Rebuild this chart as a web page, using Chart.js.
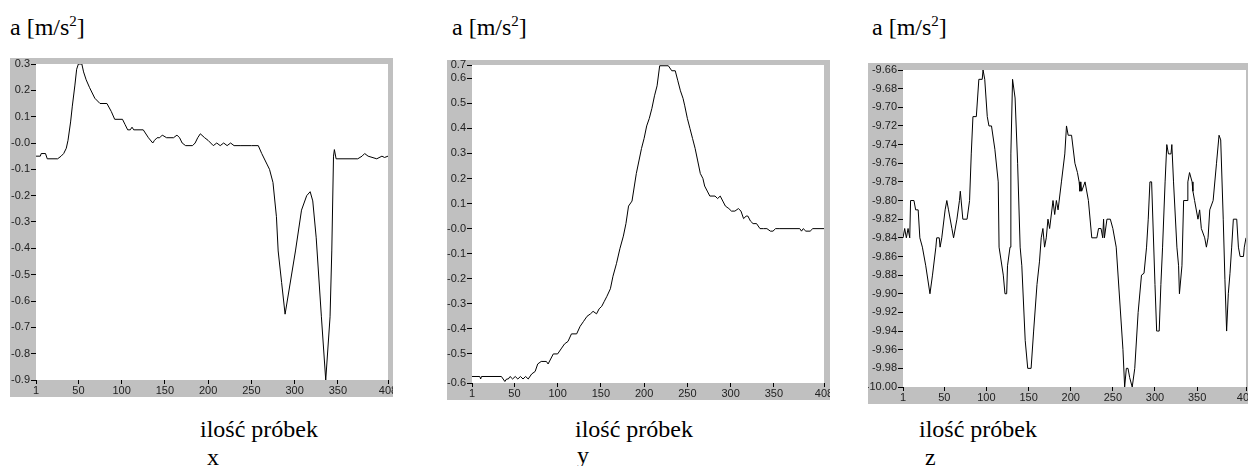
<!DOCTYPE html>
<html lang="pl">
  <head>
    <meta charset="UTF-8" />
    <title>Przyspieszenie a [m/s2] - osie x, y, z</title>
    <script src="https://cdn.jsdelivr.net/npm/chart.js"></script>
    <style>
      body {
        margin: 0;
        width: 1248px;
        height: 466px;
        position: relative;
        overflow: hidden;
        background: #fff;
      }
      .txt {
        position: absolute;
        font-family: "Liberation Serif", "DejaVu Serif", "Times New Roman", Times, serif;
        font-size: 24px;
        line-height: 24px;
        color: #000;
        white-space: nowrap;
      }
      .txt sup {
        font-size: 15px;
        line-height: 0;
        vertical-align: 9px;
      }
      canvas {
        position: absolute;
      }
    </style>
  </head>
  <body>
    <div class="txt" style="left: 10px; top: 15px">a [m/s<sup>2</sup>]</div>
    <div class="txt" style="left: 452px; top: 15px">a [m/s<sup>2</sup>]</div>
    <div class="txt" style="left: 872px; top: 15px">a [m/s<sup>2</sup>]</div>

    <canvas id="chartX" width="383" height="339" style="left: 10px; top: 58px"></canvas>
    <canvas id="chartY" width="383" height="340" style="left: 447px; top: 60px"></canvas>
    <canvas id="chartZ" width="380" height="341" style="left: 868px; top: 63px"></canvas>

    <div class="txt" style="left: 200px; top: 417px">ilość próbek</div>
    <div class="txt" style="left: 207px; top: 445px">x</div>
    <div class="txt" style="left: 575px; top: 417px">ilość próbek</div>
    <div class="txt" style="left: 577px; top: 443px">y</div>
    <div class="txt" style="left: 919px; top: 417px">ilość próbek</div>
    <div class="txt" style="left: 925px; top: 445px">z</div>

    <script>
      // sample numbers on the horizontal axis
      const sampleTicks = [1, 50, 100, 150, 200, 250, 300, 350, 408];

      // axis x
      const xSamples = [1, 6, 7, 12, 14, 26, 30, 33, 36, 38, 41, 43, 46, 48, 50, 54, 56, 59, 63, 69,
        75, 83, 88, 92, 101, 104, 107, 110, 112, 114, 125, 131, 136, 138, 141, 144, 147, 152, 160, 164,
        167, 170, 174, 182, 185, 188, 191, 196, 200, 203, 206, 210, 214, 218, 222, 226, 230, 237, 250, 258,
        262, 268, 271, 275, 279, 281, 285, 289, 301, 308, 314, 318, 321, 325, 331, 336, 341, 343, 345, 346,
        348, 373, 378, 381, 385, 395, 401, 404, 408];
      const xAccel = [-0.05, -0.05, -0.04, -0.04, -0.06, -0.06, -0.05, -0.04, -0.02, 0.01, 0.08, 0.14, 0.22, 0.28, 0.30, 0.30, 0.27, 0.24, 0.21, 0.17,
        0.15, 0.15, 0.12, 0.09, 0.09, 0.07, 0.05, 0.05, 0.06, 0.05, 0.05, 0.02, 0.00, 0.01, 0.02, 0.02, 0.03, 0.02, 0.02, 0.03,
        0.02, 0.00, -0.01, -0.01, 0.00, 0.02, 0.035, 0.02, 0.01, 0.00, -0.01, 0.00, -0.01, 0.00, -0.01, 0.00, -0.01, -0.01, -0.01, -0.01,
        -0.04, -0.08, -0.10, -0.15, -0.28, -0.41, -0.53, -0.65, -0.41, -0.255, -0.2, -0.185, -0.22, -0.36, -0.66, -0.9, -0.66, -0.41, -0.05, -0.025,
        -0.06, -0.06, -0.05, -0.04, -0.05, -0.06, -0.05, -0.055, -0.05];
      const xAxisTicks = [0.3, 0.2, 0.1, 0, -0.1, -0.2, -0.3, -0.4, -0.5, -0.6, -0.7, -0.8, -0.9];
      const xAxisLabels = ["0.3", "0.2", "0.1", "-0.0", "-0.1", "-0.2", "-0.3", "-0.4", "-0.5", "-0.6", "-0.7", "-0.8", "-0.9"];

      // axis y
      const ySamples = [1, 10, 11, 12, 35, 39, 41, 43, 45, 48, 51, 54, 57, 60, 63, 66, 70, 74, 77, 81,
        87, 89, 95, 100, 104, 108, 112, 116, 122, 126, 130, 134, 138, 141, 145, 148, 151, 154, 157, 161,
        164, 168, 172, 176, 179, 182, 186, 191, 194, 197, 200, 203, 206, 209, 212, 215, 218, 228, 232, 236,
        239, 242, 245, 247, 250, 253, 256, 259, 262, 265, 268, 270, 273, 276, 282, 285, 288, 291, 294, 298,
        301, 305, 309, 312, 315, 318, 320, 323, 326, 330, 334, 338, 342, 346, 349, 352, 357, 380, 382, 384,
        387, 392, 395, 408];
      const yAccel = [-0.59, -0.59, -0.60, -0.59, -0.59, -0.61, -0.60, -0.60, -0.59, -0.60, -0.59, -0.60, -0.59, -0.60, -0.59, -0.60, -0.58, -0.57, -0.54, -0.53,
        -0.53, -0.54, -0.50, -0.50, -0.48, -0.46, -0.45, -0.42, -0.42, -0.39, -0.37, -0.35, -0.34, -0.33, -0.34, -0.32, -0.31, -0.29, -0.27, -0.24,
        -0.19, -0.14, -0.08, -0.03, 0.02, 0.09, 0.11, 0.22, 0.27, 0.32, 0.36, 0.41, 0.44, 0.48, 0.53, 0.57, 0.65, 0.65, 0.63, 0.63,
        0.59, 0.55, 0.52, 0.49, 0.44, 0.40, 0.36, 0.32, 0.27, 0.22, 0.20, 0.17, 0.15, 0.13, 0.13, 0.12, 0.13, 0.11, 0.09, 0.08,
        0.07, 0.07, 0.08, 0.07, 0.04, 0.05, 0.05, 0.03, 0.02, 0.02, 0.00, 0.00, 0.00, -0.01, -0.01, 0.00, 0.00, 0.00, -0.01, 0.00,
        -0.01, -0.01, 0.00, 0.00];
      const yAxisTicks = [0.653, 0.6, 0.5, 0.4, 0.3, 0.2, 0.1, 0, -0.1, -0.2, -0.3, -0.4, -0.5, -0.616];
      const yAxisLabels = ["0.7", "0.6", "0.5", "0.4", "0.3", "0.2", "0.1", "-0.0", "-0.1", "-0.2", "-0.3", "-0.4", "-0.5", "-0.6"];

      // axis z
      const zSamples = [1, 3, 5, 7, 9, 10, 14, 16, 19, 21, 24, 28, 33, 36, 40, 41, 44, 45, 47, 51,
        53, 55, 59, 61, 65, 68, 69, 72, 77, 80, 82, 84, 88, 91, 95, 96, 98, 101, 103, 106,
        110, 114, 115, 120, 122, 124, 125, 128, 129, 131, 134, 137, 140, 142, 146, 149, 153, 156, 160, 163,
        165, 167, 169, 171, 173, 175, 179, 181, 183, 185, 189, 193, 195, 197, 201, 205, 208, 210, 211, 212,
        213, 217, 221, 225, 231, 233, 236, 238, 239, 240, 243, 247, 250, 254, 262, 264, 266, 268, 270, 273,
        276, 280, 284, 287, 290, 292, 294, 296, 300, 302, 303, 305, 307, 309, 312, 314, 316, 319, 320, 322,
        326, 328, 329, 332, 334, 338, 339, 341, 344, 345, 347, 351, 353, 355, 359, 361, 363, 365, 369, 373,
        376, 378, 381, 383, 385, 387, 389, 391, 393, 397, 399, 401, 405, 406, 408];
      const zAccel = [-9.84, -9.83, -9.84, -9.83, -9.84, -9.80, -9.80, -9.81, -9.81, -9.84, -9.85, -9.87, -9.90, -9.88, -9.85, -9.84, -9.84, -9.85, -9.84, -9.81,
        -9.80, -9.81, -9.83, -9.84, -9.82, -9.80, -9.79, -9.82, -9.82, -9.80, -9.75, -9.71, -9.71, -9.67, -9.67, -9.66, -9.67, -9.71, -9.72, -9.72,
        -9.745, -9.78, -9.85, -9.88, -9.90, -9.90, -9.87, -9.85, -9.75, -9.67, -9.69, -9.76, -9.85, -9.87, -9.95, -9.98, -9.98, -9.94, -9.89, -9.865,
        -9.84, -9.83, -9.85, -9.84, -9.82, -9.83, -9.80, -9.815, -9.80, -9.81, -9.78, -9.75, -9.72, -9.73, -9.73, -9.76, -9.77, -9.78, -9.79, -9.78,
        -9.79, -9.78, -9.80, -9.84, -9.84, -9.83, -9.83, -9.84, -9.82, -9.84, -9.82, -9.82, -9.83, -9.85, -9.96, -10.00, -9.98, -9.98, -9.99, -10.00,
        -9.98, -9.92, -9.88, -9.878, -9.85, -9.82, -9.78, -9.78, -9.89, -9.94, -9.94, -9.94, -9.89, -9.85, -9.78, -9.74, -9.75, -9.75, -9.74, -9.78,
        -9.85, -9.87, -9.90, -9.87, -9.80, -9.80, -9.78, -9.77, -9.78, -9.79, -9.80, -9.82, -9.81, -9.83, -9.84, -9.85, -9.84, -9.81, -9.80, -9.76,
        -9.73, -9.735, -9.82, -9.885, -9.94, -9.90, -9.878, -9.85, -9.82, -9.82, -9.85, -9.86, -9.86, -9.85, -9.84];
      const zAxisTicks = [-9.66, -9.68, -9.7, -9.72, -9.74, -9.76, -9.78, -9.8, -9.82, -9.84, -9.86, -9.88, -9.9, -9.92, -9.94, -9.96, -9.98, -10.0];
      const zAxisLabels = ["-9.66", "-9.68", "-9.70", "-9.72", "-9.74", "-9.76", "-9.78", "-9.80", "-9.82", "-9.84",
        "-9.86", "-9.88", "-9.90", "-9.92", "-9.94", "-9.96", "-9.98", "-10.00"];

      const tickFont = { family: "'Liberation Sans', Arial, sans-serif", size: 11 };

      // gray frame around a white plot area, like the original instrument panel
      const framePlugin = {
        id: "frame",
        beforeDraw(chart) {
          const { ctx, chartArea: a, width, height } = chart;
          ctx.save();
          ctx.fillStyle = "#c0c0c0";
          ctx.fillRect(0, 0, width, height);
          ctx.fillStyle = "#fff";
          ctx.fillRect(a.left, a.top, a.right - a.left, a.bottom - a.top);
          ctx.restore();
        },
      };

      function drawPanel(id, samples, accel, axisTicks, axisLabels, box) {
        const points = samples.map((n, i) => ({ x: n, y: accel[i] }));
        return new Chart(document.getElementById(id), {
          type: "line",
          data: {
            datasets: [
              {
                data: points,
                borderColor: "#000",
                borderWidth: 1,
                pointRadius: 0,
                tension: 0,
                fill: false,
              },
            ],
          },
          options: {
            responsive: false,
            animation: false,
            devicePixelRatio: 1,
            events: [],
            layout: { padding: { top: box.top, right: box.right, left: 0, bottom: 0 } },
            plugins: { legend: { display: false }, tooltip: { enabled: false } },
            scales: {
              x: {
                type: "linear",
                min: 1,
                max: 408,
                afterBuildTicks: (s) => {
                  s.ticks = sampleTicks.map((v) => ({ value: v }));
                },
                afterFit: (s) => {
                  s.height = box.bottom;
                  s.paddingLeft = 0;
                  s.paddingRight = 0;
                },
                grid: { drawOnChartArea: false, drawTicks: true, tickLength: 4, color: "#000" },
                border: { display: false },
                ticks: { autoSkip: false, maxRotation: 0, padding: 0, color: "#222", font: tickFont },
              },
              y: {
                min: Math.min(...axisTicks),
                max: Math.max(...axisTicks),
                afterBuildTicks: (s) => {
                  s.ticks = axisTicks.map((v) => ({ value: v }));
                },
                afterFit: (s) => {
                  s.width = box.left;
                  s.paddingTop = 0;
                  s.paddingBottom = 0;
                },
                grid: { drawOnChartArea: false, drawTicks: true, tickLength: 5, color: "#000" },
                border: { display: false },
                ticks: {
                  autoSkip: false,
                  padding: 1,
                  color: "#222",
                  font: tickFont,
                  callback: (v, i) => axisLabels[i],
                },
              },
            },
          },
          plugins: [framePlugin],
        });
      }

      drawPanel("chartX", xSamples, xAccel, xAxisTicks, xAxisLabels, { left: 26, top: 6, right: 5, bottom: 17 });
      drawPanel("chartY", ySamples, yAccel, yAxisTicks, yAxisLabels, { left: 25, top: 5, right: 6, bottom: 17 });
      drawPanel("chartZ", zSamples, zAccel, zAxisTicks, zAxisLabels, { left: 35, top: 7, right: 2, bottom: 17 });
    </script>
  </body>
</html>
